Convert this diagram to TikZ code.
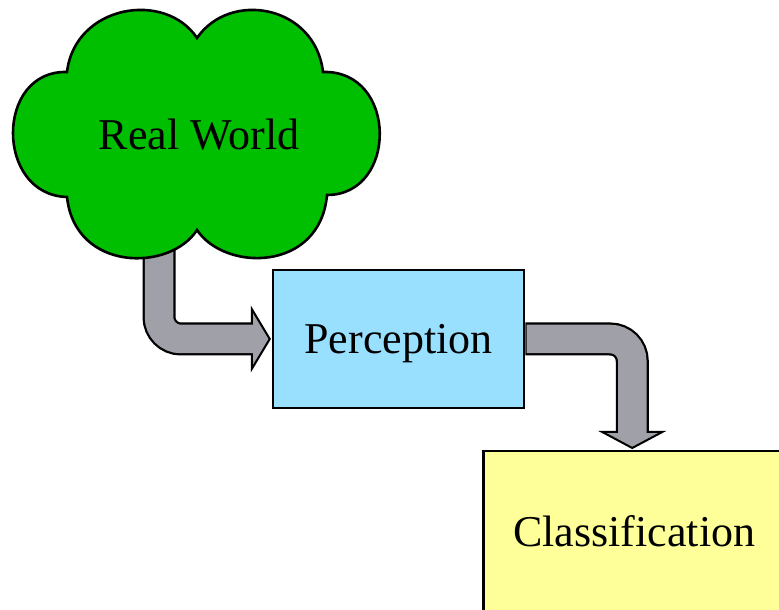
\documentclass[tikz,border=0pt]{standalone}
\usepackage{fontspec}
\setmainfont{Liberation Serif}
\usepackage{tikz}
\usetikzlibrary{calc, arrows.meta}

\definecolor{cloudgreen}{RGB}{0,190,0}
\definecolor{percblue}{RGB}{153,224,255}
\definecolor{classyellow}{RGB}{255,255,153}
\definecolor{arrowgray}{RGB}{160,160,168}

\tikzset{
  txt/.style={font=\fontsize{44}{50}\selectfont},
  bloc/.style={txt, draw=black, line width=2.5pt, inner sep=0pt, text depth=0pt},
  shaftout/.style={draw=black, line width=33pt, rounded corners=22pt},
  shaftin/.style={draw=arrowgray, line width=28.5pt, rounded corners=22pt},
  fathead/.style={fill=arrowgray, draw=black, line width=2pt, line join=miter},
}

\begin{document}
\begin{tikzpicture}[x=1pt, y=1pt]
  \useasboundingbox (0,0) rectangle (779,610);
  \clip (0,0) rectangle (779,610);
  % Blocs
  \node[bloc, fill=percblue, minimum width=251pt, minimum height=138pt] (perc) at (398.5,271) {Perception};
  \node[bloc, fill=classyellow, minimum width=302pt, minimum height=160pt, anchor=north west] (class) at (482,160) {Classification};
  % Points d'attache des flèches
  \coordinate (rw) at (199,475);
  \coordinate (src) at ($(rw)+(-40,-95)$);
  \coordinate (tipA) at ($(perc.west)+(-2,0)$);
  \coordinate (tipB) at ($(class.north)+(-2,2)$);
  % Flèche nuage -> Perception
  \draw[shaftout] (src) |- ($(tipA)+(-18,0)$);
  \draw[fathead] ($(tipA)+(-18,30)$) -- (tipA) -- ($(tipA)+(-18,-30)$) -- cycle;
  \draw[shaftin] (src) |- ($(tipA)+(-16,0)$);
  % Flèche Perception -> Classification
  \draw[shaftout] (perc.east) -| ($(tipB)+(0,16)$);
  \draw[fathead] ($(tipB)+(-30,16)$) -- (tipB) -- ($(tipB)+(30,16)$) -- cycle;
  \draw[shaftin] ($(perc.east)+(1.4,0)$) -| ($(tipB)+(0,14)$);
  % Nuage
  \draw[fill=cloudgreen, line width=2.6pt]
    (67,538) .. controls (75,605) and (165,620) .. (197,572)
    .. controls (230,620) and (315,605) .. (323,538)
    .. controls (398,540) and (398,415) .. (327,415)
    .. controls (320,338) and (225,338) .. (197,380)
    .. controls (170,338) and (75,338) .. (67,413)
    .. controls (-5,415) and (-5,540) .. cycle;
  \node[txt] (world) at (rw) {Real World};
\end{tikzpicture}
\end{document}
